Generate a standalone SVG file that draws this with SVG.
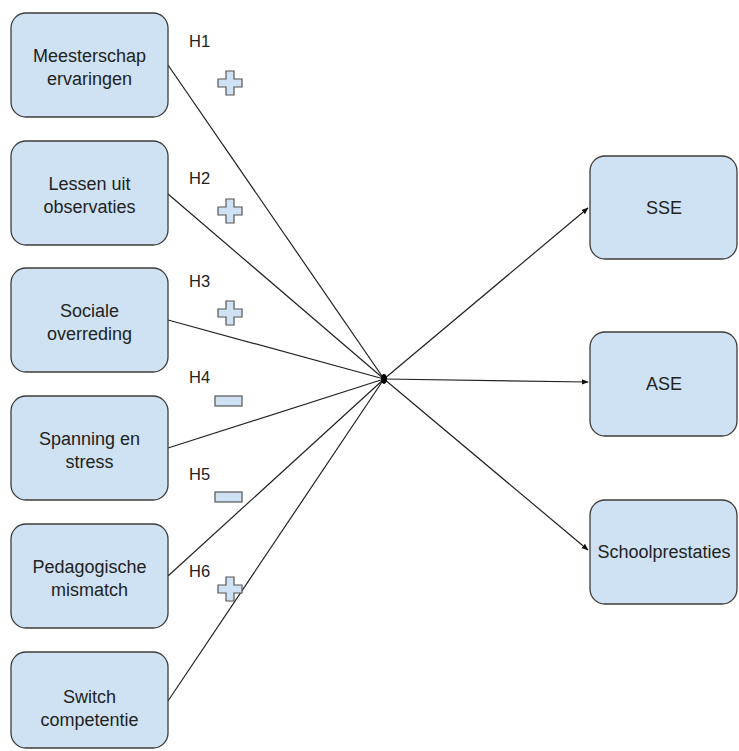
<svg xmlns="http://www.w3.org/2000/svg" width="739" height="751" viewBox="0 0 739 751">
<style>
.box{fill:#cfe2f3;stroke:#3c3c3c;stroke-width:1.3}
.t{font-family:"Liberation Sans",Arial,sans-serif;font-size:18px;fill:#222;text-anchor:middle}
.h{font-family:"Liberation Sans",Arial,sans-serif;font-size:16.5px;fill:#222}
.sign{fill:#cfe2f3;stroke:#555;stroke-width:1.2}
.ln{stroke:#222;stroke-width:1.2;fill:none}
</style>
<defs>
<marker id="ah" viewBox="0 0 10 10" refX="9" refY="5" markerWidth="7" markerHeight="7" markerUnits="userSpaceOnUse" orient="auto">
<path d="M0,1 L10,5 L0,9 Z" fill="#111"/>
</marker>
<path id="plus" d="M-4,-12 H4 V-4 H12 V4 H4 V12 H-4 V4 H-12 V-4 H-4 Z"/>
</defs>
<rect width="739" height="751" fill="#fff"/>
<g id="connectors">
<line class="ln" x1="168" y1="65" x2="384" y2="379"/>
<line class="ln" x1="168" y1="194" x2="384" y2="379"/>
<line class="ln" x1="168" y1="320" x2="384" y2="379"/>
<line class="ln" x1="168" y1="448" x2="384" y2="379"/>
<line class="ln" x1="168" y1="576" x2="384" y2="379"/>
<line class="ln" x1="168" y1="701" x2="384" y2="379"/>
<line class="ln" x1="384" y1="379" x2="588" y2="208" marker-end="url(#ah)"/>
<line class="ln" x1="384" y1="379" x2="588" y2="382" marker-end="url(#ah)"/>
<line class="ln" x1="384" y1="379" x2="588" y2="550" marker-end="url(#ah)"/>
<ellipse cx="384" cy="379" rx="3" ry="5" fill="#000"/>
</g>
<g id="n1"><rect class="box" x="11" y="13" width="157" height="104" rx="15"/><text class="t" x="89.5" y="62">Meesterschap</text><text class="t" x="89.5" y="85">ervaringen</text></g>
<g id="n2"><rect class="box" x="11" y="141" width="157" height="104" rx="15"/><text class="t" x="89.5" y="190">Lessen uit</text><text class="t" x="89.5" y="213">observaties</text></g>
<g id="n3"><rect class="box" x="11" y="268" width="157" height="104" rx="15"/><text class="t" x="89.5" y="317">Sociale</text><text class="t" x="89.5" y="340">overreding</text></g>
<g id="n4"><rect class="box" x="11" y="396" width="157" height="104" rx="15"/><text class="t" x="89.5" y="445">Spanning en</text><text class="t" x="89.5" y="468">stress</text></g>
<g id="n5"><rect class="box" x="11" y="524" width="157" height="104" rx="15"/><text class="t" x="89.5" y="573">Pedagogische</text><text class="t" x="89.5" y="596">mismatch</text></g>
<g id="n6"><rect class="box" x="11" y="652" width="157" height="96" rx="15"/><text class="t" x="89.5" y="703">Switch</text><text class="t" x="89.5" y="726">competentie</text></g>
<g id="sse"><rect class="box" x="590" y="156" width="147" height="103" rx="15"/><text class="t" x="664" y="214">SSE</text></g>
<g id="ase"><rect class="box" x="590" y="332" width="147" height="104" rx="15"/><text class="t" x="664" y="390">ASE</text></g>
<g id="school"><rect class="box" x="590" y="500" width="147" height="104" rx="15"/><text class="t" x="664" y="558">Schoolprestaties</text></g>
<g id="labels">
<text class="h" x="189" y="47">H1</text>
<text class="h" x="189" y="184">H2</text>
<text class="h" x="189" y="287">H3</text>
<text class="h" x="189" y="383">H4</text>
<text class="h" x="189" y="480">H5</text>
<text class="h" x="189" y="577">H6</text>
<use href="#plus" class="sign" x="230" y="83"/>
<use href="#plus" class="sign" x="230" y="211"/>
<use href="#plus" class="sign" x="230" y="313"/>
<rect class="sign" x="215" y="396" width="27" height="10"/>
<rect class="sign" x="215" y="492" width="27" height="10"/>
<use href="#plus" class="sign" x="230" y="589"/>
</g>
</svg>
